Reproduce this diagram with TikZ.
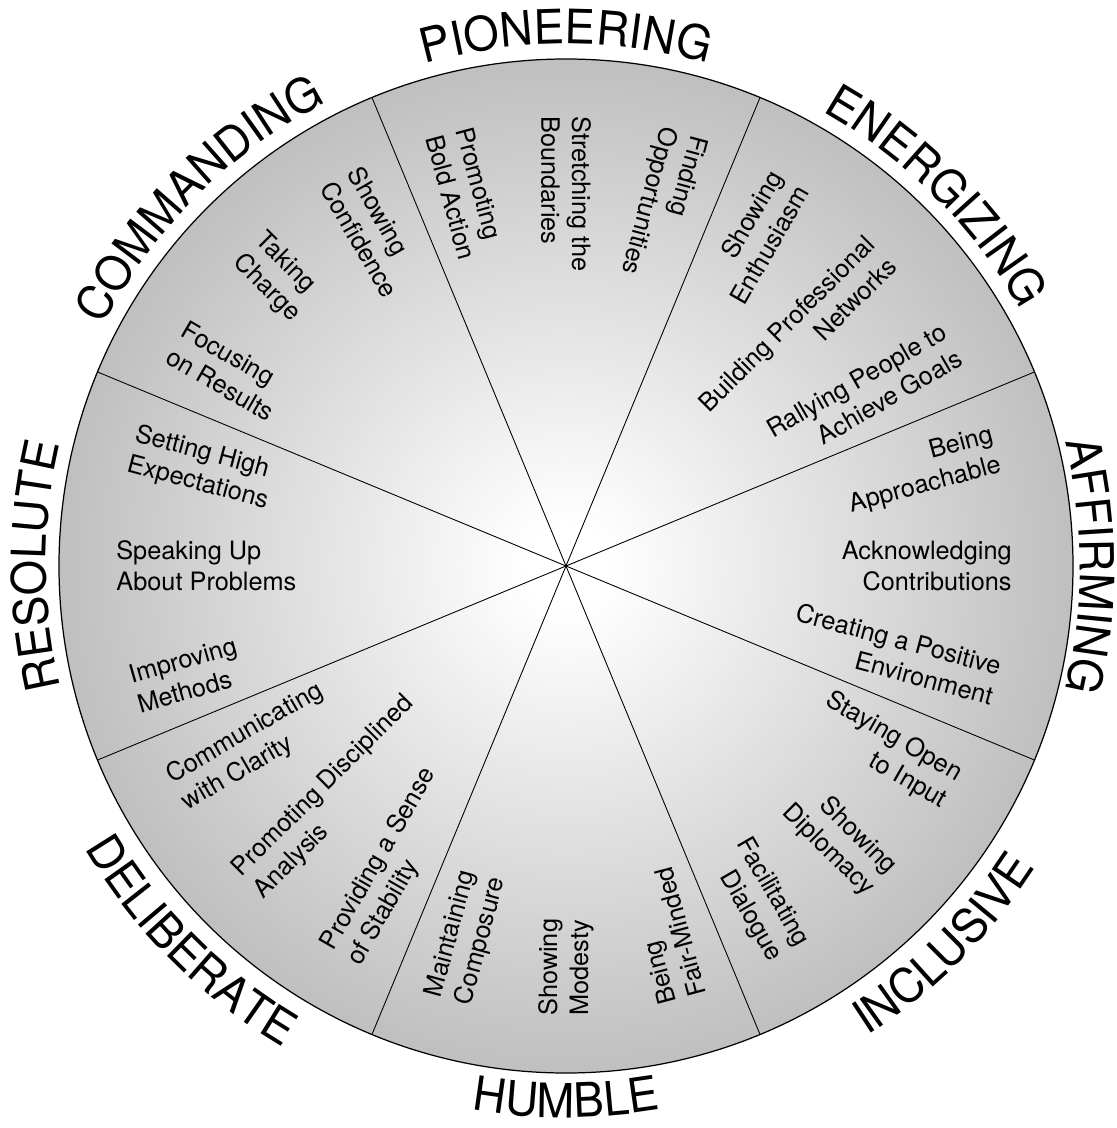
\documentclass[tikz,border=0pt]{standalone}
\usepackage{fontspec}
\setmainfont{TeX Gyre Heros}
\newfontfamily\catfamily[FakeStretch=0.96]{TeX Gyre Heros}
\usetikzlibrary{decorations.text}

\newcommand{\catfont}{\catfamily\fontsize{27}{30}\selectfont}
\newcommand{\itemfont}{\fontsize{14.4}{17.6}\selectfont}
\pgfdeclareradialshading{wheelshade}{\pgfpoint{0bp}{0bp}}{color(0bp)=(white); color(2bp)=(white); color(25bp)=(gray!50); color(50bp)=(gray!50)}

\begin{document}
\begin{tikzpicture}[
  outtext/.style={font=\itemfont, inner sep=0pt, anchor=east, align=right},
  intext/.style={font=\itemfont, inner sep=0pt, anchor=west, align=left},
  rim/.style={line width=0.7pt},
  spoke/.style={line width=0.5pt}
]
  \useasboundingbox (-11.32,-11.24) rectangle (11.02,11.32);
  % wheel
  \shade[shading=wheelshade] (0,0) circle (10.14);
  \foreach \a in {22.5,67.5,112.5,157.5}
    \draw[spoke] (\a:10.14) -- (\a+180:10.14);
  \draw[rim] (0,0) circle (10.14);
  % items, right half (reading outwards)
  \foreach \a/\txt [count=\i] in {60/Showing\\Enthusiasm, 45/Building Professional\\Networks, 30/Rallying People to\\Achieve Goals,
      15/Being\\Approachable, 0/Acknowledging\\Contributions, -15/Creating a Positive\\Environment,
      -30/Staying Open\\to Input, -45/Showing\\Diplomacy, -60/Facilitating\\Dialogue}
    \node[outtext, rotate=\a] (out\i) at (\a:8.92) {\txt};
  % items, left half (reading inwards)
  \foreach \a/\txt [count=\i] in {105/Promoting\\Bold Action, 90/Stretching the\\Boundaries, 75/Finding\\Opportunities,
      120/Showing\\Confidence, 135/Taking\\Charge, 150/Focusing\\on Results,
      165/Setting High\\Expectations, 180/Speaking Up\\About Problems, 196/Improving\\Methods,
      210/Communicating\\with Clarity, 225/Promoting Disciplined\\Analysis, 240/Providing a Sense\\of Stability,
      255/Maintaining\\Composure, 270/Showing\\Modesty, 285/Being\\Fair-Minded}
    \node[intext, rotate=\a+180] (in\i) at (\a:9.0) {\txt};
  % styles round the rim
  \path[decorate, decoration={text along path, text align=center, text={|\catfont|COMMANDING}}]
    (175:10.44) arc[start angle=175, end angle=95, radius=10.44];
  \path[decorate, decoration={text along path, text align=center, text={|\catfont|PIONEERING}}]
    (130:10.44) arc[start angle=130, end angle=50, radius=10.44];
  \path[decorate, decoration={text along path, text align=center, text={|\catfont|ENERGIZING}}]
    (85:10.44) arc[start angle=85, end angle=5, radius=10.44];
  \path[decorate, decoration={text along path, text align=center, text={|\catfont|AFFIRMING}}]
    (40:10.28) arc[start angle=40, end angle=-40, radius=10.28];
  \path[decorate, decoration={text along path, text align=center, text={|\catfont|RESOLUTE}}]
    (220:10.4) arc[start angle=220, end angle=140, radius=10.4];
  \path[decorate, decoration={text along path, text align=center, text={|\catfont|INCLUSIVE}}]
    (-85:11.16) arc[start angle=-85, end angle=-5, radius=11.16];
  \path[decorate, decoration={text along path, text align=center, text={|\catfont|HUMBLE}}]
    (-130:11.03) arc[start angle=-130, end angle=-50, radius=11.03];
  \path[decorate, decoration={text along path, text align=center, text={|\catfont|DELIBERATE}}]
    (-175:11.16) arc[start angle=-175, end angle=-95, radius=11.16];
\end{tikzpicture}
\end{document}
